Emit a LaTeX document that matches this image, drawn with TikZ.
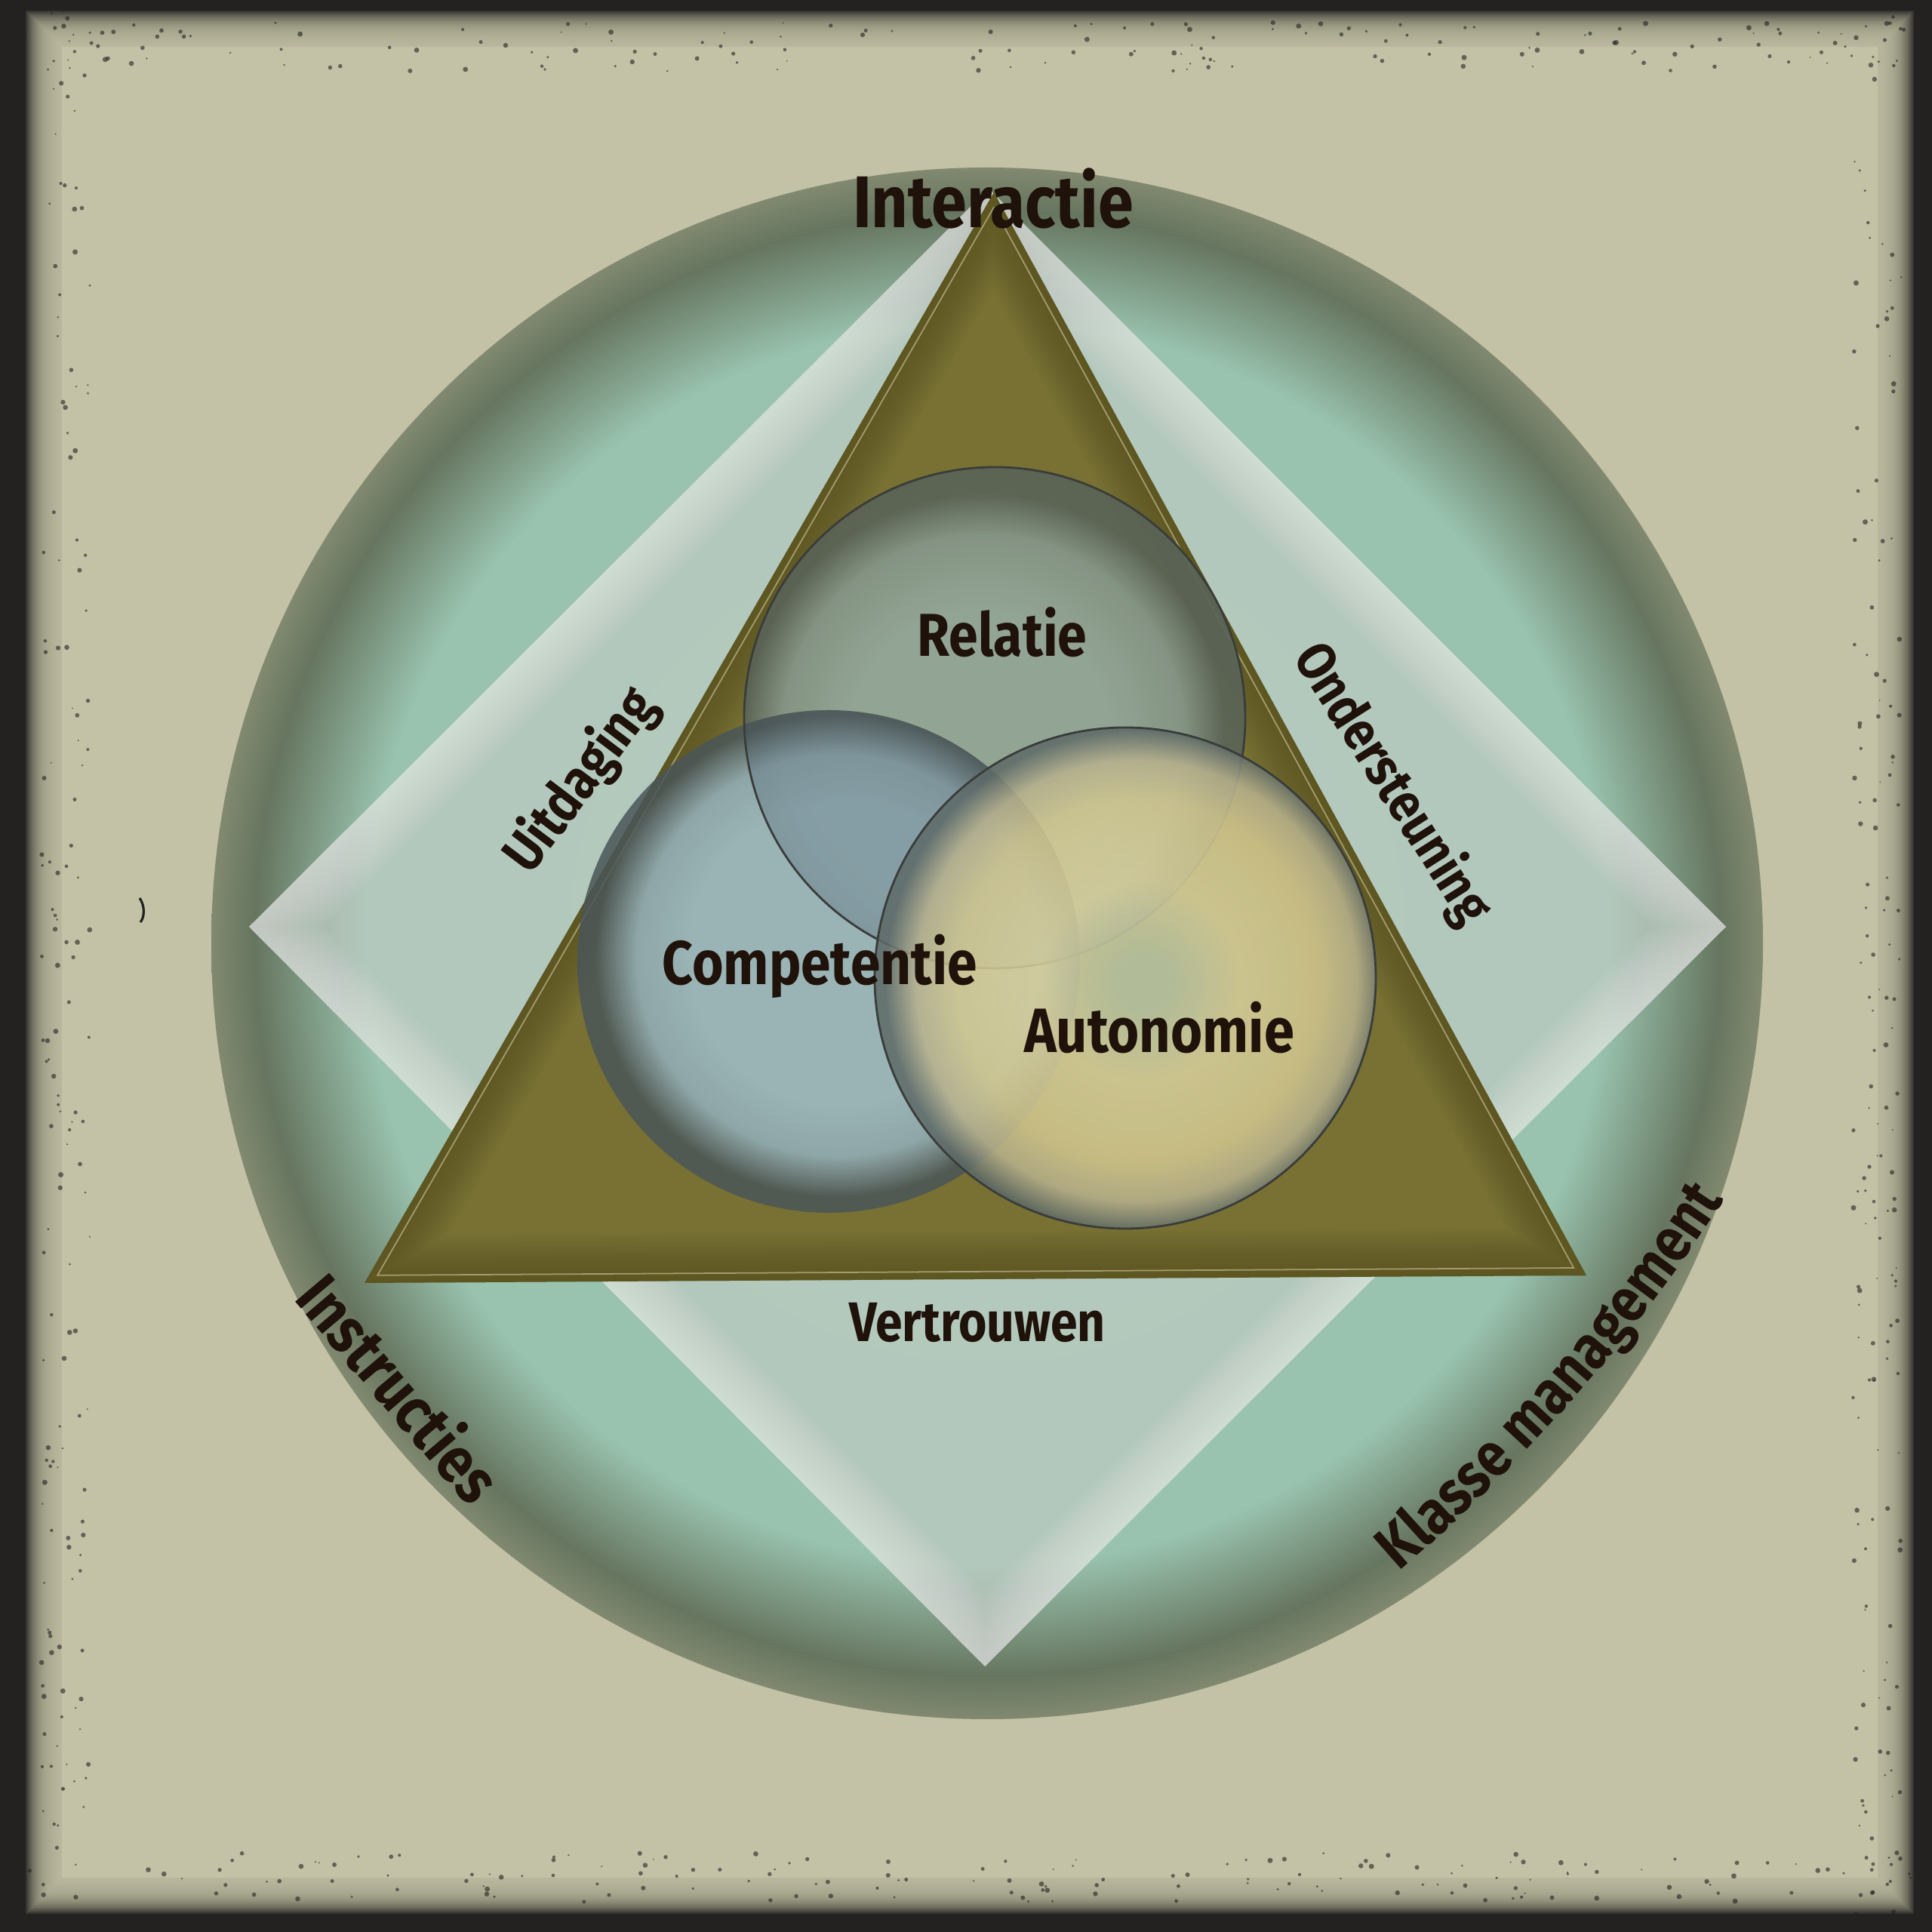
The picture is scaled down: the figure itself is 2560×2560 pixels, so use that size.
\documentclass[tikz,border=0pt]{standalone}
\usepackage{fontspec}
\newfontfamily\lblfont{Fira Sans}[FakeStretch=0.87]
\usetikzlibrary{calc,decorations.text}
\newcommand\lf[1]{\lblfont\bfseries\fontsize{#1}{#1}\selectfont}

\definecolor{frame}{HTML}{232221}
\definecolor{paper}{HTML}{C3C2A7}
\definecolor{big0}{HTML}{A6C8B8}
\definecolor{big1}{HTML}{99C3AF}
\definecolor{big2}{HTML}{66755F}
\definecolor{big3}{HTML}{818970}
\definecolor{dia}{HTML}{C6CDC6}
\definecolor{olive}{HTML}{787133}
\definecolor{olivedark}{HTML}{3C3618}
\definecolor{oliveline}{HTML}{B4AE82}
\definecolor{rel1}{HTML}{95A99D}
\definecolor{rel2}{HTML}{86978A}
\definecolor{rel3}{HTML}{5A6357}
\definecolor{com1}{HTML}{A0BFCC}
\definecolor{com2}{HTML}{93B0BC}
\definecolor{com3}{HTML}{4A5558}
\definecolor{aut0}{HTML}{BCC8A8}
\definecolor{aut1}{HTML}{D9D19E}
\definecolor{aut2}{HTML}{D2C890}
\definecolor{autm}{HTML}{B8B28E}
\definecolor{aut3}{HTML}{5E6A68}
\definecolor{outl}{HTML}{3A3D3A}
\definecolor{ink}{HTML}{1F120A}

\pgfdeclareradialshading{bigS}{\pgfpoint{0bp}{0bp}}{color(0bp)=(big0); color(15bp)=(big1); color(20bp)=(big1); color(23.6bp)=(big2); color(25bp)=(big3); color(50bp)=(big3)}
\pgfdeclareradialshading{relS}{\pgfpoint{-2bp}{-3bp}}{color(0bp)=(rel1); color(13bp)=(rel1); color(20bp)=(rel2); color(24bp)=(rel3); color(25bp)=(rel3); color(50bp)=(rel3)}
\pgfdeclareradialshading{comS}{\pgfpoint{1.5bp}{1bp}}{color(0bp)=(com1); color(15bp)=(com1); color(20bp)=(com2); color(24bp)=(com3); color(25bp)=(com3); color(50bp)=(com3)}
\pgfdeclareradialshading{autS}{\pgfpoint{2bp}{-0.5bp}}{color(0bp)=(aut0); color(3bp)=(aut0); color(10bp)=(aut1); color(18bp)=(aut2); color(22bp)=(autm); color(25bp)=(aut3); color(50bp)=(aut3)}

\tikzset{
  lbl/.style={text=ink, inner sep=0pt},
  ring/.style={draw=outl, line width=0.8pt}
}

\begin{document}
\begin{tikzpicture}[x=0.01cm,y=0.01cm]
\useasboundingbox (0,0) rectangle (2560,2560);
% frame
\fill[frame] (0,0) rectangle (2560,2560);
\foreach \d in {0,2,...,48}{
  \fill[paper,opacity=0.12] (82-\d,72-\d) rectangle (2488+\d,2498+\d);}
\fill[paper] (82,72) rectangle (2488,2498);
\pgfmathsetseed{42}
\foreach \i in {1,...,160}{
  \pgfmathsetmacro\yy{2560*rnd}\pgfmathsetmacro\xx{55+65*rnd}\pgfmathsetmacro\rr{1+2.5*rnd}
  \fill[frame,opacity=0.6] (\xx,\yy) circle[radius=\rr];}
\foreach \i in {1,...,160}{
  \pgfmathsetmacro\yy{2560*rnd}\pgfmathsetmacro\xx{2455+65*rnd}\pgfmathsetmacro\rr{1+2.5*rnd}
  \fill[frame,opacity=0.6] (\xx,\yy) circle[radius=\rr];}
\foreach \i in {1,...,160}{
  \pgfmathsetmacro\xx{2560*rnd}\pgfmathsetmacro\yy{2465+65*rnd}\pgfmathsetmacro\rr{1+2.5*rnd}
  \fill[frame,opacity=0.6] (\xx,\yy) circle[radius=\rr];}
\foreach \i in {1,...,160}{
  \pgfmathsetmacro\xx{2560*rnd}\pgfmathsetmacro\yy{40+65*rnd}\pgfmathsetmacro\rr{1+2.5*rnd}
  \fill[frame,opacity=0.6] (\xx,\yy) circle[radius=\rr];}
\draw[frame,line width=0.9pt] (185,1370) .. controls (192,1360) and (192,1345) .. (186,1338);

% coordinates
\coordinate (O) at (1308,1310);
\coordinate (dL) at (330,1332);
\coordinate (dT) at (1310,2310);
\coordinate (dR) at (2287,1332);
\coordinate (dB) at (1305,352);
\coordinate (tA) at (1317,2305);
\coordinate (tL) at (483,860);
\coordinate (tR) at (2102,870);
\coordinate (tG) at (1300.7,1345);
\coordinate (cR) at (1318,1609);
\coordinate (cC) at (1098,1286);
\coordinate (cA) at (1491,1264);
\coordinate (kP) at (326,2250);

% big circle
\shade[shading=bigS] (O) circle[radius=1028];

% diamond
\fill[dia,fill opacity=0.58] (dL)--(dT)--(dR)--(dB)--cycle;
\begin{scope}
\clip (dL)--(dT)--(dR)--(dB)--cycle;
\foreach \w in {2,4,...,40}{
  \draw[white,opacity=0.03,line width=\w pt] (dL)--(dT)--(dR)--(dB)--cycle;}
\end{scope}

% triangle
\fill[olive] (tA)--(tL)--(tR)--cycle;
\begin{scope}
\clip (tA)--(tL)--(tR)--cycle;
\foreach \w in {2,4,...,36}{
  \draw[olivedark,opacity=0.025,line width=\w pt] (tA)--(tL)--(tR)--cycle;}
\end{scope}
\draw[oliveline,opacity=0.8,line width=0.5pt] ($(tG)!0.979!(tA)$) -- ($(tG)!0.979!(tL)$) -- ($(tG)!0.979!(tR)$) -- cycle;

% circles
\shade[shading=relS,fill opacity=0.92] (cR) circle[radius=332];
\shade[shading=comS,fill opacity=0.85] (cC) circle[radius=333];
\begin{scope}
\clip (cR) circle[radius=332];
\fill[com3,opacity=0.28] (cC) circle[radius=333];
\end{scope}
\draw[ring] (cR) circle[radius=332];
\shade[shading=autS,fill opacity=0.86] (cA) circle[radius=332];
\draw[ring] (cA) circle[radius=332];

% labels
\node[lbl,anchor=base,font=\lf{27.6}] (interactie) at (1316,2258) {Interactie};
\node[lbl,anchor=base,font=\lf{22.8}] (relatie) at (1328,1690) {Relatie};
\node[lbl,anchor=base,font=\lf{23.3}] (competentie) at (1086,1255) {Competentie};
\node[lbl,anchor=base,font=\lf{23.6}] (autonomie) at (1536,1165) {Autonomie};
\node[lbl,anchor=base,font=\lf{21}] (vertrouwen) at (1295,782) {Vertrouwen};
\node[lbl,rotate=52.9,font=\lf{21}] (uitdaging) at (770,1525) {Uitdaging};
\node[lbl,rotate=-57.6,font=\lf{20.5}] (ondersteuning) at (1844,1521) {Ondersteuning};
\node[lbl,rotate=-49.7,font=\lf{24.2}] (instructies) at (531,722) {Instructies};
\path[color=ink,decorate,decoration={text along path,text={|\lf{23.3}\color{ink}|Klasse management},text align=center}]
  ($(kP)+(-51.2:2340)$) arc[start angle=-51.2,end angle=-31.2,radius=2340];
\end{tikzpicture}
\end{document}
